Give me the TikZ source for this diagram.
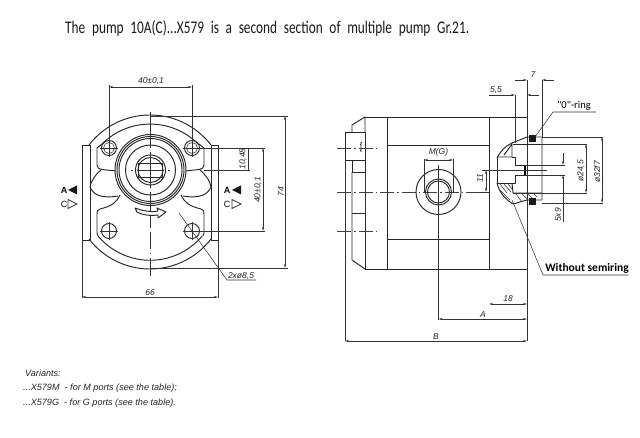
\documentclass[tikz,border=0pt]{standalone}
\usepackage{fontspec}
\setmainfont{Liberation Sans}
\newfontfamily\stroke{Carlito}
\usetikzlibrary{arrows.meta}
\tikzset{
  hv/.style={line width=0.95pt,black!85,line join=round},
  th/.style={line width=0.55pt,black!80},
  cl/.style={line width=0.5pt,black!75,dash pattern=on 14pt off 3pt on 1.5pt off 3pt},
  dimn/.style={line width=0.55pt,black!80,{Stealth[length=4pt,width=2pt]}-{Stealth[length=4pt,width=2pt]}},
  dimto/.style={line width=0.55pt,black!80,-{Stealth[length=4pt,width=2pt]}},
  lab/.style={font=\itshape\fontsize{8.5}{10}\selectfont,inner sep=0pt,text=black!85},
  pl/.style={font=\stroke\fontsize{13}{14}\selectfont,inner sep=0pt,text=black!90},
  notet/.style={inner sep=0pt,anchor=west,font=\itshape\fontsize{9.1}{10}\selectfont,text=black!85}
}
\begin{document}
\begin{tikzpicture}[x=1pt,y=-1pt]
\useasboundingbox (0,0) rectangle (640,438);
% ---------- title
\node[pl,anchor=west] (title) at (65,28) {\resizebox{404pt}{13pt}{\spaceskip=0.5em The pump 10A(C)...X579 is a second section of multiple pump Gr.21.}};
% ---------- front view: outer
\draw[hv] (89,145) arc[start angle=217.6,end angle=322.4,radius=77];
\draw[hv] (89,239) arc[start angle=142.4,end angle=37.6,radius=77];
\draw[hv] (90,145) -- (82,145) -- (82,240) -- (90,240);
\draw[hv] (211,145) -- (218,145) -- (218,240) -- (211,240);
\draw[hv] (90,145) -- (90,240) (211,145) -- (211,240);
% inner arcs
\draw[hv] (102,144) arc[start angle=225,end angle=315,radius=68];
\draw[hv] (98,236) arc[start angle=140,end angle=40,radius=68];
% upper flange
\draw[hv] (102,144) -- (97,148) -- (97,165) .. controls (97,168) and (99,169) .. (102,169.5) -- (116,171);
\draw[hv] (199,144) -- (204,148) -- (204,165) .. controls (204,168) and (202,169) .. (199,169.5) -- (185,171);
% lower flange
\draw[hv] (120,195) .. controls (116,203) and (112,206) .. (100,209) .. controls (97,210) and (97,211) .. (97,214) -- (97,233) -- (98,236);
\draw[hv] (181,195) .. controls (185,203) and (189,206) .. (201,209) .. controls (204,210) and (204,211) .. (204,214) -- (204,233) -- (203,236);
% waves
\draw[hv] (101,170) .. controls (95,175) and (91,181) .. (90,187) .. controls (93,194) and (100,199) .. (118,196);
\draw[hv] (200,170) .. controls (206,175) and (210,181) .. (211,187) .. controls (208,194) and (201,199) .. (183,196);
% holes
\foreach \n/\hx/\hy in {ha/109/148,hb/192/148,hc/109/231,hd/192/231}{
  \draw[hv] (\hx,\hy) circle[radius=7.5];
  \draw[th] (\hx-9,\hy) -- (\hx+9,\hy) (\hx,\hy-9) -- (\hx,\hy+9);
}
\draw[th] (109,148) circle[radius=5.5] (192,148) circle[radius=5.5];
% rings
\fill[white] (150.5,170) circle[radius=35];
\draw[hv] (150.5,170) circle[radius=35.5] circle[radius=33.5] circle[radius=31.5];
\draw[hv] (150.5,170) circle[radius=25];
\draw[hv] (150.5,170) circle[radius=15];
\draw[hv] (150.5,170) circle[radius=12.5];
\draw[hv] (138.5,163) rectangle (162.5,177);
\draw[hv] (139,170) -- (162,170);
% centre marks
\draw[th] (150.5,112) -- (150.5,148) (150.5,152) -- (150.5,188) (150.5,192) -- (150.5,228) (150.5,232) -- (150.5,249) (150.5,253) -- (150.5,254) (150.5,258) -- (150.5,276);
\draw[th] (131,170) -- (133,170) (137,170) -- (164,170) (168,170) -- (170,170);
% rotation arrow
\draw[hv,fill=white] (135,208) .. controls (145,212) and (155,212) .. (158,211) -- (157,208) -- (166,212) -- (158,218) -- (158,215) .. controls (150,216) and (142,215) .. (137,212) -- cycle;
% letters
\node[inner sep=0pt,font=\bfseries\fontsize{9}{10}\selectfont] (la) at (64,190) {A};
\node[inner sep=0pt,font=\fontsize{9}{10}\selectfont] (lc) at (64,204) {C};
\fill[black!90] (68,190) -- (77,185.5) -- (77,194.5) -- cycle;
\draw[th,line width=0.7pt] (68,199.5) -- (77,204) -- (68,208.5) -- cycle;
\node[inner sep=0pt,font=\bfseries\fontsize{9}{10}\selectfont] (ra) at (227,190) {A};
\node[inner sep=0pt,font=\fontsize{9}{10}\selectfont] (rc) at (227,204) {C};
\fill[black!90] (232,190) -- (241,185.5) -- (241,194.5) -- cycle;
\draw[th,line width=0.7pt] (232,199.5) -- (241,204) -- (232,208.5) -- cycle;
% front dimensions
\draw[th] (109,148) -- (109,85) (192,148) -- (192,85);
\draw[dimn] (109,87) -- (192,87);
\node[lab] (d40a) at (151,81) {40±0,1};
\draw[th] (150,116) -- (288,116) (150,268) -- (288,268);
\draw[dimn] (285,116) -- (285,268);
\node[lab,rotate=90] (d74) at (281,192) {74};
\draw[th] (192,148) -- (265,148) (192,231) -- (265,231);
\draw[dimn] (263,148) -- (263,231);
\node[lab,rotate=90] (d40b) at (258,190) {40±0,1};
\draw[th] (204,170) -- (250,170);
\draw[th] (248,148) -- (248,170);
\node[lab,rotate=90] (d10) at (243,159) {10,48};
\draw[th] (82,240) -- (82,298) (218,240) -- (218,298);
\draw[dimn] (82,297) -- (218,297);
\node[lab] (d66) at (150,293) {66};
\draw[th] (179,213) -- (227,280) -- (256,280);
\node[lab] (dhole) at (241,276) {2xø8,5};
% ---------- side view
\draw[hv] (365,117) -- (527,117) (365,269) -- (527,269);
\draw[hv] (387,117) -- (387,269) (489,117) -- (489,269);
\draw[hv] (387,145) -- (489,145) (387,239) -- (489,239);
% flange at left
\draw[hv] (352,132) -- (352,125) -- (365,117) -- (365,132);
\draw[hv] (345,132) rectangle (365,160);
\draw[hv] (365,160) -- (365,172) -- (352,172) -- (352,160);
\draw[hv] (352,172) -- (352,213) (352,213) -- (352,260) -- (365,269);
\draw[hv] (352,213) -- (365,213) -- (365,269);
\draw[th] (365,172) -- (365,213);
\draw[th] (345,160) -- (345,341);
\draw[th] (360,145) -- (362,142) (360,151) -- (362,148) (361,152) -- (361,142);
% centre lines
\draw[cl] (337,148) -- (377,148) (337,231) -- (377,231);
\draw[cl] (337,192) -- (478,192);
% port
\draw[hv] (438.5,192) circle[radius=22.5];
\draw[hv] (438.5,192) circle[radius=13] circle[radius=11];
\draw[th] (438.5,165) -- (438.5,320);
% M(G)
\draw[th] (424,159) -- (424,192) (453,159) -- (453,192);
\draw[dimn] (424,160) -- (453,160);
\node[lab] (dm) at (438.5,152) {M(G)};
% 11
\draw[th] (482,170) -- (512,170);
\draw[th] (478,192) -- (489,192);
\draw[dimn] (486,170) -- (486,192);
\node[lab,rotate=90] (d11) at (480,178) {11};
% 18, A, B
\draw[th] (527,117) -- (527,341);
\draw[dimn] (489,304) -- (527,304);
\node[lab] (d18) at (508,299) {18};
\draw[dimn] (438.5,319) -- (527,319);
\node[lab] (dA) at (483,315) {A};
\draw[dimn] (345,341) -- (527,341);
\node[lab] (dB) at (436,337) {B};
% rear detail
\draw[hv] (497,158) .. controls (500,152) and (505,146) .. (512,143) -- (527,137) -- (542,137) -- (542,200);
\draw[hv] (497,157) -- (512,157) -- (512,143) (504,155) -- (512,144);
\draw[hv] (497,158) -- (497,183) -- (515,183) -- (515,175) -- (525,175) -- (525,165) -- (515,165) -- (515,157) -- (512,157);
\draw[line width=1.5pt] (525,165) -- (525,175);
\draw[hv] (497,183) .. controls (499,192) and (505,199) .. (513,204) -- (527,200) -- (542,200);
\draw[hv] (512,183) -- (513,193) -- (542,193);
\draw[th] (500,184) -- (507,193) (504,184) -- (511,192) (508,184) -- (512,189) (500,190) -- (510,200) (516,194) -- (522,202) (522,194) -- (528,200) (528,194) -- (532,198) (534,194) -- (537,197);
\draw[hv] (513,144) -- (542,144);
% ring section
\fill[black!90] (528.5,135.5) rectangle (535.5,142.5);
\fill[black!90] (528.5,198.5) rectangle (535.5,205.5);
% dims rear
\draw[th] (515,95) -- (515,143);
\draw[th] (527,80) -- (527,117) (542,80) -- (542,137);
\draw[dimto] (515,80) -- (527,80);
\draw[dimto] (554,80) -- (542,80);
\node[lab] (d7) at (533,75) {7};
\draw[dimto] (489,95) -- (515,95);
\draw[dimto] (539,95) -- (527,95);
\node[lab] (d55) at (496,90) {5,5};
\draw[th] (535,137) -- (553,112) -- (596,112);
\node[inner sep=0pt,font=\stroke\fontsize{10.5}{12}\selectfont] (oring) at (574,106) {"0"-ring};
\draw[th] (542,137) -- (603,137) (542,203) -- (603,203);
\draw[dimn] (602,137) -- (602,203);
\node[lab,rotate=90] (d32) at (597,172) {ø32f7};
\draw[th] (542,144) -- (587,144) (513,193) -- (587,193);
\draw[dimn] (586,144) -- (586,193);
\node[lab,rotate=90] (d24) at (581,171) {ø24,5};
\draw[th] (525,165) -- (565,165) (525,175) -- (565,175);
\draw[dimto] (563,153) -- (563,165);
\draw[dimto] (563,222) -- (563,175);
\node[lab,rotate=90] (d59) at (558,215) {5x9};
\draw[th] (485,170) -- (547,170);
\draw[th] (512,200) -- (543,275) -- (628,275);
\node[inner sep=0pt,font=\stroke\bfseries\fontsize{11.5}{12}\selectfont] (semi) at (587,268.5) {Without semiring};
% ---------- notes
\node[notet] (v1) at (25,373) {Variants:};
\node[notet] (v2) at (23,388) {...X579M\ \ - for M ports (see the table);};
\node[notet] (v3) at (23,403) {...X579G\ \ - for G ports (see the table).};
\end{tikzpicture}
\end{document}
